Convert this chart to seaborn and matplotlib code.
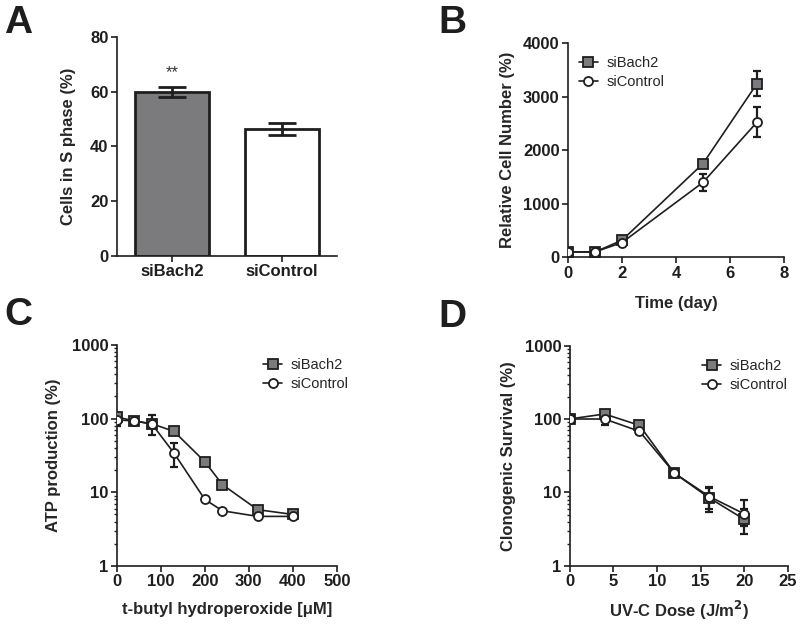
import numpy as np
import pandas as pd
import matplotlib
matplotlib.use('Agg')
import matplotlib.pyplot as plt
import matplotlib.ticker as mticker
import seaborn as sns

# Panel A - cells in S phase
groups = ['siBach2', 'siControl']
s_phase = [60.0, 46.5]
s_phase_err = [1.8, 2.2]

# Panel B - relative cell number over time
days = [0, 1, 2, 5, 7]
cells_bach2 = [100, 100, 318, 1750, 3245]
cells_bach2_err = [20, 20, 30, 60, 235]
cells_ctrl = [100, 100, 275, 1400, 2525]
cells_ctrl_err = [20, 20, 35, 160, 275]

# Panel C - ATP production vs t-butyl hydroperoxide
tbhp = [0, 40, 80, 130, 200, 240, 320, 400]
atp_bach2 = [105, 93, 85, 67, 26, 12.7, 5.8, 5.0]
atp_bach2_lo = [95, 88, 80, 63, 24, 12.0, 5.5, 4.8]
atp_bach2_hi = [115, 98, 90, 72, 28, 13.5, 6.1, 5.2]
atp_ctrl = [96, 93, 84, 34, 8.0, 5.6, 4.7, 4.7]
atp_ctrl_lo = [80, 89, 60, 22, 7.6, 5.3, 4.5, 4.5]
atp_ctrl_hi = [110, 97, 112, 47, 8.4, 5.9, 4.9, 4.9]

# Panel D - clonogenic survival vs UV-C dose
uvc = [0, 4, 8, 12, 16, 20]
surv_bach2 = [100, 117, 82, 18.3, 8.4, 4.3]
surv_bach2_lo = [95, 108, 76, 17.3, 5.5, 2.7]
surv_bach2_hi = [105, 126, 88, 19.3, 11.5, 6.0]
surv_ctrl = [100, 100, 68, 18.3, 8.8, 5.1]
surv_ctrl_lo = [95, 83, 62, 17.3, 6.0, 3.5]
surv_ctrl_hi = [105, 120, 74, 19.3, 12.0, 7.8]

sns.set_theme(style='ticks')
plt.rcParams['font.family'] = ['Liberation Sans', 'DejaVu Sans']
plt.rcParams['font.weight'] = 'bold'
plt.rcParams['mathtext.default'] = 'bf'
plt.rcParams['axes.linewidth'] = 1.2
plt.rcParams['xtick.major.width'] = 1.2
plt.rcParams['ytick.major.width'] = 1.2
plt.rcParams['ytick.minor.width'] = 1.0
plt.rcParams['xtick.major.size'] = 4
plt.rcParams['ytick.major.size'] = 4
plt.rcParams['ytick.minor.size'] = 2.5
plt.rcParams['xtick.labelsize'] = 12
plt.rcParams['ytick.labelsize'] = 12

dark = '#1e1e1e'
grey = '#7a7b7e'
label_font = dict(fontsize=12, fontweight='bold')
legend_prop = {'size': 10.5, 'weight': 'normal'}

fig = plt.figure(figsize=(8, 6.26), dpi=100)
axA = fig.add_axes([0.146, 0.591, 0.275, 0.350])
axB = fig.add_axes([0.710, 0.589, 0.270, 0.342])
axC = fig.add_axes([0.146, 0.096, 0.275, 0.353])
axD = fig.add_axes([0.712, 0.096, 0.273, 0.352])


def style_axes(ax):
    sns.despine(ax=ax)
    ax.tick_params(colors=dark, pad=2)
    ax.spines['left'].set_color(dark)
    ax.spines['bottom'].set_color(dark)


def draw_series(ax, x, y, lo, hi, marker, face, label):
    df = pd.DataFrame({'x': x, 'y': y})
    ax.errorbar(x, y, yerr=[np.array(y) - np.array(lo), np.array(hi) - np.array(y)],
                fmt='none', ecolor=dark, elinewidth=1.6, capsize=3, capthick=1.6, zorder=2)
    sns.lineplot(data=df, x='x', y='y', ax=ax, color=dark, linewidth=1.2,
                 marker=marker, markersize=6.5, markerfacecolor=face,
                 markeredgecolor=dark, markeredgewidth=1.3, label=label, zorder=3)


# ---- A ----
dfA = pd.DataFrame({'group': groups, 'value': s_phase})
sns.barplot(data=dfA, x='group', y='value', hue='group', palette=[grey, 'white'],
            edgecolor=dark, linewidth=2, width=0.67, legend=False, ax=axA)
axA.errorbar([0, 1], s_phase, yerr=s_phase_err, fmt='none', ecolor=dark,
             elinewidth=2, capsize=10, capthick=2, zorder=5)
axA.text(0, 67, '**', ha='center', va='center', fontsize=12, fontweight='normal', color='#333333')
axA.set_xlim(-0.5, 1.5)
axA.set_ylim(0, 80)
axA.set_yticks([0, 20, 40, 60, 80])
axA.set_xlabel('')
axA.set_ylabel('Cells in S phase (%)', labelpad=10, **label_font)
style_axes(axA)

# ---- B ----
draw_series(axB, days, cells_bach2,
            np.array(cells_bach2) - np.array(cells_bach2_err),
            np.array(cells_bach2) + np.array(cells_bach2_err), 's', grey, 'siBach2')
draw_series(axB, days, cells_ctrl,
            np.array(cells_ctrl) - np.array(cells_ctrl_err),
            np.array(cells_ctrl) + np.array(cells_ctrl_err), 'o', 'white', 'siControl')
axB.set_xlim(0, 8)
axB.set_ylim(0, 4000)
axB.set_xticks([0, 2, 4, 6, 8])
axB.set_yticks([0, 1000, 2000, 3000, 4000])
axB.set_xlabel('Time (day)', labelpad=11, **label_font)
axB.set_ylabel('Relative Cell Number (%)', labelpad=6, **label_font)
axB.legend(loc='upper left', bbox_to_anchor=(-0.01, 1.0), frameon=False, prop=legend_prop,
           handlelength=1.3, handletextpad=0.6, labelspacing=0.35)
style_axes(axB)

# ---- C ----
draw_series(axC, tbhp, atp_bach2, atp_bach2_lo, atp_bach2_hi, 's', grey, 'siBach2')
draw_series(axC, tbhp, atp_ctrl, atp_ctrl_lo, atp_ctrl_hi, 'o', 'white', 'siControl')
axC.set_yscale('log')
axC.set_xlim(0, 500)
axC.set_ylim(1, 1000)
axC.set_xticks([0, 100, 200, 300, 400, 500])
axC.yaxis.set_major_formatter(mticker.FuncFormatter(lambda v, p: f'{v:g}'))
axC.yaxis.set_minor_formatter(mticker.NullFormatter())
axC.set_xlabel('t-butyl hydroperoxide [\u03bcM]', labelpad=9, **label_font)
axC.set_ylabel('ATP production (%)', labelpad=8, **label_font)
axC.legend(loc='upper right', bbox_to_anchor=(1.115, 1.0), frameon=False, prop=legend_prop,
           handlelength=1.3, handletextpad=0.6, labelspacing=0.35)
style_axes(axC)

# ---- D ----
draw_series(axD, uvc, surv_bach2, surv_bach2_lo, surv_bach2_hi, 's', grey, 'siBach2')
draw_series(axD, uvc, surv_ctrl, surv_ctrl_lo, surv_ctrl_hi, 'o', 'white', 'siControl')
axD.set_yscale('log')
axD.set_xlim(0, 25)
axD.set_ylim(1, 1000)
axD.set_xticks([0, 5, 10, 15, 20, 25])
axD.yaxis.set_major_formatter(mticker.FuncFormatter(lambda v, p: f'{v:g}'))
axD.yaxis.set_minor_formatter(mticker.NullFormatter())
axD.set_xlabel('UV-C Dose (J/m$^{2}$)', labelpad=7, **label_font)
axD.set_ylabel('Clonogenic Survival (%)', labelpad=6, **label_font)
axD.legend(loc='upper right', bbox_to_anchor=(1.06, 1.0), frameon=False, prop=legend_prop,
           handlelength=1.3, handletextpad=0.6, labelspacing=0.35)
style_axes(axD)

# panel letters
for letter, x, y in [('A', 0.005, 0.935), ('B', 0.548, 0.935),
                     ('C', 0.005, 0.468), ('D', 0.548, 0.465)]:
    fig.text(x, y, letter, fontsize=28, fontweight='bold', color=dark, va='bottom')

fig.savefig('out.png', dpi=100)
